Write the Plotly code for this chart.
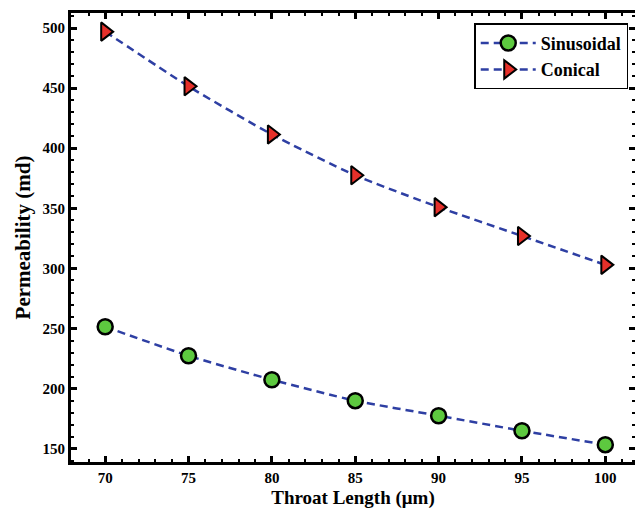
import plotly.graph_objects as go

throat_length = [70, 75, 80, 85, 90, 95, 100]
sinusoidal = [251.5, 227.4, 207.4, 190.0, 177.5, 165.0, 153.4]
conical = [497.0, 451.5, 411.5, 377.5, 351.0, 327.0, 303.0]
y_ticks = [150, 200, 250, 300, 350, 400, 450, 500]

line_color = "#2E3FA3"
font_family = "Liberation Serif, Times New Roman, serif"
x_range = [67.95, 101.78]
y_range = [139.0, 512.5]

fig = go.Figure()
fig.add_trace(go.Scatter(
    x=throat_length, y=sinusoidal, name="Sinusoidal",
    mode="lines+markers",
    line=dict(color=line_color, width=2.5, dash="8px,5px", shape="spline", smoothing=0.6),
    marker=dict(symbol="circle", size=15, color="#5DC93F", line=dict(color="black", width=2.5)),
))
fig.add_trace(go.Scatter(
    x=throat_length, y=conical, name="Conical",
    mode="lines+markers",
    line=dict(color=line_color, width=2.5, dash="8px,5px", shape="spline", smoothing=0.6),
    marker=dict(symbol="triangle-right", size=16, color="#E5302A", line=dict(color="black", width=2)),
))

tick_font = dict(family=font_family, size=15, color="black", weight="bold")

fig.update_xaxes(
    range=x_range, tickvals=throat_length,
    showline=True, linecolor="black", linewidth=3, mirror="ticks",
    ticks="inside", ticklen=6, tickwidth=2.5, tickcolor="black",
    showgrid=False, zeroline=False, tickfont=tick_font,
    minor=dict(ticks="inside", ticklen=3, tickwidth=2, tickcolor="black", dtick=1, tick0=70),
    title=dict(text="Throat Length (μm)", font=dict(family=font_family, size=19, color="black", weight="bold"), standoff=6),
)
fig.update_layout(
    yaxis=dict(
        range=y_range, tickvals=y_ticks,
        showline=True, linecolor="black", linewidth=3, mirror=False,
        ticks="inside", ticklen=6, tickwidth=2.5, tickcolor="black",
        showgrid=False, zeroline=False, tickfont=tick_font,
        minor=dict(ticks="inside", ticklen=3, tickwidth=2, tickcolor="black", dtick=10, tick0=150),
        title=dict(text="Permeability (md)", font=dict(family=font_family, size=21, color="black", weight="bold"), standoff=7),
    ),
    yaxis2=dict(
        range=y_range, tickvals=y_ticks, overlaying="y", side="right",
        showline=False, showticklabels=False,
        ticks="inside", ticklen=6, tickwidth=2.5, tickcolor="black",
        showgrid=False, zeroline=False,
        minor=dict(ticks="inside", ticklen=3, tickwidth=2, tickcolor="black", dtick=10, tick0=150),
    ),
)
# invisible trace to activate the right-side tick axis
fig.add_trace(go.Scatter(x=[throat_length[0]], y=[conical[0]], yaxis="y2", mode="markers",
                         marker=dict(opacity=0), showlegend=False, hoverinfo="skip"))

fig.update_layout(
    width=635, height=511,
    margin=dict(l=71, r=0, t=13, b=49),
    plot_bgcolor="white", paper_bgcolor="white",
    legend=dict(
        x=0.988, y=0.977, xanchor="right", yanchor="top",
        bordercolor="black", borderwidth=1.5, bgcolor="white",
        font=dict(family=font_family, size=18, color="black", weight="bold"),
        itemwidth=55, tracegroupgap=0,
    ),
    showlegend=True,
)

fig.write_html("out.html")
